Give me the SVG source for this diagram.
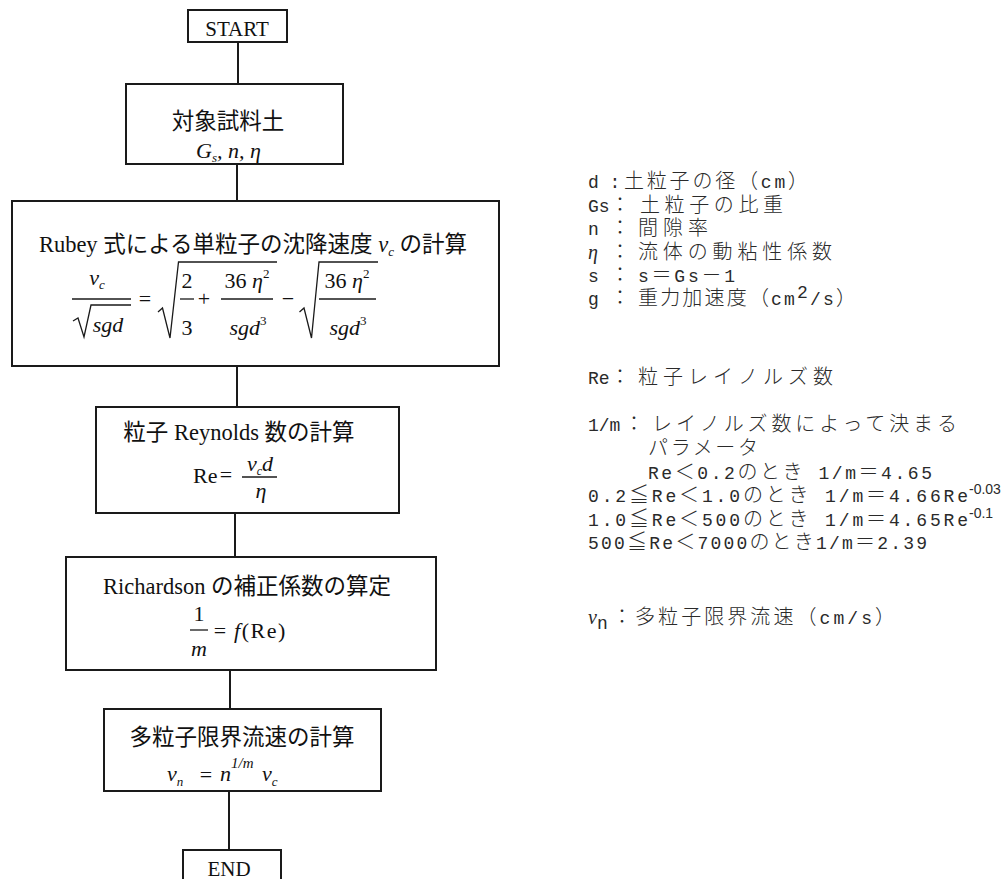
<svg xmlns="http://www.w3.org/2000/svg" width="1004" height="879" viewBox="0 0 1004 879">
<style>
.box{fill:none;stroke:#1a1a1a;stroke-width:2}
.ln{stroke:#1a1a1a;stroke-width:2}
.fr{stroke:#1a1a1a;stroke-width:1.3}
.rad{fill:none;stroke:#1a1a1a;stroke-width:1.3;stroke-linejoin:miter}
.jp{font-family:"Liberation Serif","Noto Sans CJK JP",serif;font-size:22.5px;fill:#111}
.t{font-family:"Liberation Serif",serif;font-size:21px;fill:#111}
.m{font-family:"Liberation Serif",serif;font-style:italic;font-size:22px;fill:#111}
.n{font-family:"Liberation Serif",serif;font-size:22px;fill:#111}
.r{font-family:"Noto Sans CJK JP",sans-serif;font-size:20px;font-weight:300;fill:#2a2a2a}
.l{font-family:"Liberation Mono",monospace;font-size:18px}
.g{font-family:"Liberation Serif",serif;font-style:italic;font-size:20px}
.sup{font-family:"Liberation Sans",sans-serif;font-size:14px;fill:#2a2a2a}
</style>
<rect width="1004" height="879" fill="#fff"/>

<g id="connectors">
<line class="ln" x1="238" y1="42" x2="238" y2="84"/>
<line class="ln" x1="237" y1="164" x2="237" y2="201"/>
<line class="ln" x1="237" y1="366" x2="237" y2="407"/>
<line class="ln" x1="235" y1="513" x2="235" y2="557"/>
<line class="ln" x1="230" y1="670" x2="230" y2="709"/>
<line class="ln" x1="229" y1="791" x2="229" y2="850"/>
</g>

<g id="start">
<rect class="box" x="188" y="10" width="99" height="32"/>
<text class="t" x="237" y="36" text-anchor="middle">START</text>
</g>

<g id="sample">
<rect class="box" x="126" y="84" width="217" height="80"/>
<text class="jp" x="228" y="129" text-anchor="middle">対象試料土</text>
<text class="m" x="196" y="158">G<tspan font-size="13" dy="4">s</tspan><tspan dy="-4">, n,  η</tspan></text>
</g>

<g id="rubey">
<rect class="box" x="12" y="201" width="487" height="165"/>
<text class="jp" x="253" y="252" text-anchor="middle">Rubey 式による単粒子の沈降速度 <tspan font-style="italic">ν</tspan><tspan font-style="italic" font-size="13" dy="4">c</tspan><tspan dy="-4"> の計算</tspan></text>
<text class="m" x="97" y="285" text-anchor="middle">ν<tspan font-size="13" dy="4">c</tspan></text>
<line class="fr" x1="72" y1="299" x2="131" y2="299"/>
<path class="rad" d="M73,321 L78,318 L84,337 L91,305 L131,305"/>
<text class="m" x="108" y="332" text-anchor="middle">sgd</text>
<text class="n" x="145" y="306" text-anchor="middle">=</text>
<path class="rad" d="M158,312 L162.5,308 L170,338 L178.5,262 L277,262"/>
<text class="n" x="187" y="288" text-anchor="middle">2</text>
<line class="fr" x1="180" y1="299" x2="194" y2="299"/>
<text class="n" x="187" y="335" text-anchor="middle">3</text>
<text class="n" x="204" y="306" text-anchor="middle">+</text>
<text class="m" x="247" y="288" text-anchor="middle"><tspan font-style="normal">36</tspan> η<tspan font-size="13" font-style="normal" dy="-10">2</tspan></text>
<line class="fr" x1="221" y1="299" x2="273" y2="299"/>
<text class="m" x="248" y="335" text-anchor="middle">sgd<tspan font-size="13" font-style="normal" dy="-10">3</tspan></text>
<text class="n" x="288" y="306" text-anchor="middle">−</text>
<path class="rad" d="M299.5,312 L304,308 L311.5,338 L319,262 L378,262"/>
<text class="m" x="347" y="288" text-anchor="middle"><tspan font-style="normal">36</tspan> η<tspan font-size="13" font-style="normal" dy="-10">2</tspan></text>
<line class="fr" x1="319" y1="299" x2="376" y2="299"/>
<text class="m" x="348" y="335" text-anchor="middle">sgd<tspan font-size="13" font-style="normal" dy="-10">3</tspan></text>
</g>

<g id="reynolds">
<rect class="box" x="96" y="407" width="303" height="106"/>
<text class="jp" x="239" y="440" text-anchor="middle">粒子 Reynolds 数の計算</text>
<text class="n" x="193" y="483" font-size="21">Re</text>
<text class="n" x="226" y="482" text-anchor="middle" font-size="18">=</text>
<line class="fr" x1="242" y1="477" x2="277" y2="477"/>
<text class="m" x="260" y="471" text-anchor="middle" font-size="21">ν<tspan font-size="12" dy="4">c</tspan><tspan dy="-4">d</tspan></text>
<text class="m" x="261" y="498" text-anchor="middle" font-size="21">η</text>
</g>

<g id="richardson">
<rect class="box" x="66" y="557" width="370" height="113"/>
<text class="jp" x="247" y="594" text-anchor="middle" font-size="22">Richardson の補正係数の算定</text>
<text class="n" x="199" y="621" text-anchor="middle" font-size="20">1</text>
<line class="fr" x1="190" y1="630" x2="208" y2="630"/>
<text class="m" x="199" y="656" text-anchor="middle">m</text>
<text class="n" x="220" y="638" text-anchor="middle" font-size="18">=</text>
<text class="n" x="234" y="638" font-size="24" letter-spacing="1.5"><tspan font-style="italic">f</tspan>(Re)</text>
</g>

<g id="multi">
<rect class="box" x="104" y="709" width="277" height="82"/>
<text class="jp" x="242" y="745" text-anchor="middle">多粒子限界流速の計算</text>
<text class="m" x="167" y="781" font-size="23">ν<tspan font-size="13" dy="5">n</tspan></text>
<text class="n" x="206" y="782" text-anchor="middle">=</text>
<text class="m" x="220" y="781" font-size="23">n<tspan font-size="15" dy="-13">1/m</tspan></text>
<text class="m" x="262" y="781" font-size="23">ν<tspan font-size="13" dy="5">c</tspan></text>
</g>

<g id="end">
<rect class="box" x="183" y="850" width="98" height="40"/>
<text class="t" x="229" y="876" text-anchor="middle" font-size="22">END</text>
</g>

<g id="legend" class="r">
<text x="588" y="188"><tspan class="l">d :</tspan></text>
<text x="624" y="188" textLength="184" lengthAdjust="spacing">土粒子の径（<tspan class="l">cm</tspan>）</text>
<text x="588" y="212"><tspan class="l">Gs</tspan><tspan x="610">：</tspan></text>
<text x="640" y="212" textLength="143" lengthAdjust="spacing">土粒子の比重</text>
<text x="588" y="235"><tspan class="l">n</tspan><tspan x="610">：</tspan></text>
<text x="638" y="235" textLength="70" lengthAdjust="spacing">間隙率</text>
<text x="588" y="259"><tspan class="g">η</tspan><tspan x="610">：</tspan></text>
<text x="638" y="259" textLength="194" lengthAdjust="spacing">流体の動粘性係数</text>
<text x="588" y="282"><tspan class="l">s</tspan><tspan x="610">：</tspan></text>
<text x="638" y="282" textLength="97" lengthAdjust="spacing"><tspan class="l">s</tspan>＝<tspan class="l">Gs</tspan>－<tspan class="l">1</tspan></text>
<text x="588" y="305"><tspan class="l">g</tspan><tspan x="610">：</tspan></text>
<text x="638" y="305" textLength="218" lengthAdjust="spacing">重力加速度（<tspan class="l">cm</tspan><tspan class="l" font-size="12" dy="-7">2</tspan><tspan class="l" dy="7">/s</tspan>）</text>
<text x="588" y="384"><tspan class="l">Re</tspan><tspan x="610">：</tspan></text>
<text x="638" y="384" textLength="195" lengthAdjust="spacing">粒子レイノルズ数</text>
<text x="588" y="431"><tspan class="l">1/m</tspan><tspan x="624">：</tspan></text>
<text x="652" y="431" textLength="305" lengthAdjust="spacing">レイノルズ数によって決まる</text>
<text x="648" y="455" textLength="110" lengthAdjust="spacing">パラメータ</text>
<text x="648" y="479" textLength="284" lengthAdjust="spacing"><tspan class="l">Re</tspan>＜<tspan class="l">0.2</tspan>のとき<tspan class="l"> 1/m</tspan>＝<tspan class="l">4.65</tspan></text>
<text x="588" y="502" textLength="380" lengthAdjust="spacing"><tspan class="l">0.2</tspan>≦<tspan class="l">Re</tspan>＜<tspan class="l">1.0</tspan>のとき<tspan class="l"> 1/m</tspan>＝<tspan class="l">4.66Re</tspan></text>
<text class="sup" x="969" y="494">-0.03</text>
<text x="588" y="526" textLength="380" lengthAdjust="spacing"><tspan class="l">1.0</tspan>≦<tspan class="l">Re</tspan>＜<tspan class="l">500</tspan>のとき<tspan class="l"> 1/m</tspan>＝<tspan class="l">4.65Re</tspan></text>
<text class="sup" x="969" y="518">-0.1</text>
<text x="588" y="549" textLength="339" lengthAdjust="spacing"><tspan class="l">500</tspan>≦<tspan class="l">Re</tspan>＜<tspan class="l">7000</tspan>のとき<tspan class="l">1/m</tspan>＝<tspan class="l">2.39</tspan></text>
<text x="588" y="624"><tspan class="g">ν</tspan><tspan class="l" font-size="13" dy="5">n</tspan></text>
<text x="612" y="624" textLength="283" lengthAdjust="spacing">：多粒子限界流速（<tspan class="l">cm/s</tspan>）</text>
</g>
</svg>
